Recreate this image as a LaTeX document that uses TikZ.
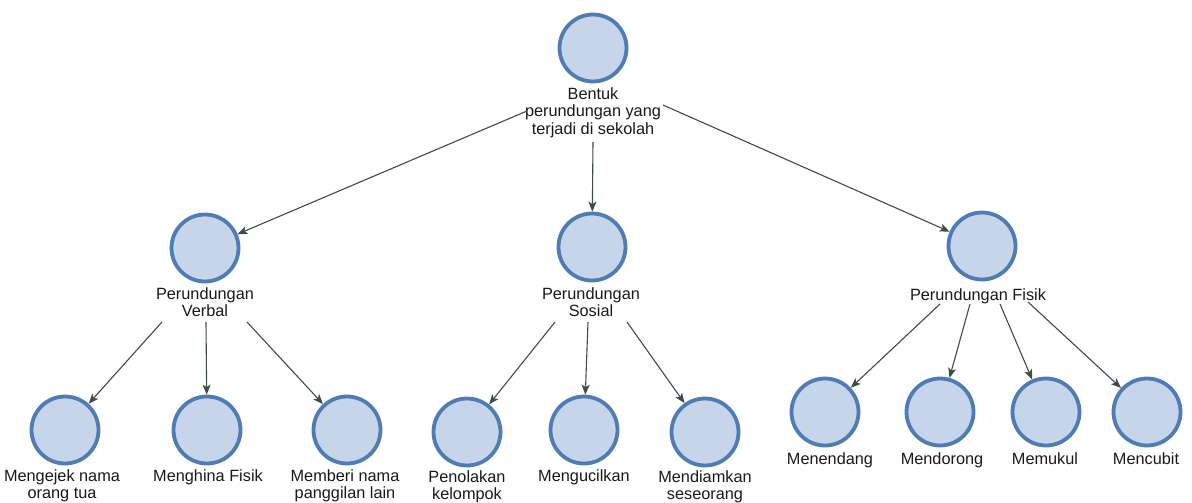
\documentclass[tikz,border=0pt]{standalone}
\usepackage{fontspec}
\setmainfont{Liberation Sans}
\usetikzlibrary{arrows.meta}
\definecolor{ringblue}{RGB}{80,124,182}
\definecolor{fillblue}{RGB}{198,213,233}
\definecolor{linkgray}{RGB}{62,76,70}
\definecolor{txt}{RGB}{25,25,25}
\tikzset{
  ball/.style={circle, draw=ringblue, fill=fillblue, line width=3.8pt, minimum size=67pt, inner sep=0pt},
  lbl/.style={anchor=north, align=center, inner sep=0pt, text=txt, font=\fontsize{16.3}{17.6}\selectfont},
  link/.style={draw=linkgray, line width=1.1pt, -{Stealth[length=10pt,width=8pt,inset=2.5pt]}}
}
\begin{document}
\begin{tikzpicture}[x=1pt,y=-1pt]
\useasboundingbox (0,0) rectangle (1192,503);

% root
\node[ball] (t) at (593,48) {};
\node[lbl] (tl) at (593,87) {Bentuk\\perundungan yang\\terjadi di sekolah};

% second level
\node[ball] (v) at (205,248) {};
\node[lbl] (vl) at (205,287) {Perundungan\\Verbal};
\node[ball] (s) at (592,247) {};
\node[lbl] (sl) at (591,287) {Perundungan\\Sosial};
\node[ball] (f) at (982,246) {};
\node[lbl] (fl) at (978,288) {Perundungan Fisik};

% verbal leaves
\node[ball] (v1) at (65,430) {};
\node[lbl] (v1l) at (62,469) {Mengejek nama\\orang tua};
\node[ball] (v2) at (207,430) {};
\node[lbl] (v2l) at (208,469) {Menghina Fisik};
\node[ball] (v3) at (347,430) {};
\node[lbl] (v3l) at (345,469) {Memberi nama\\panggilan lain};

% social leaves
\node[ball] (s1) at (467,432) {};
\node[lbl] (s1l) at (467,470) {Penolakan\\kelompok};
\node[ball] (s2) at (584,430) {};
\node[lbl] (s2l) at (584,469) {Mengucilkan};
\node[ball] (s3) at (705,432) {};
\node[lbl] (s3l) at (705,470) {Mendiamkan\\seseorang};

% physical leaves
\node[ball] (f1) at (825,412) {};
\node[lbl] (f1l) at (830,452) {Menendang};
\node[ball] (f2) at (940,412) {};
\node[lbl] (f2l) at (942,452) {Mendorong};
\node[ball] (f3) at (1046,412) {};
\node[lbl] (f3l) at (1045,452) {Memukul};
\node[ball] (f4) at (1147,412) {};
\node[lbl] (f4l) at (1146,452) {Mencubit};

% links from the root label
\draw[link] ([shift={(-66,24)}]tl.north) -- (v);
\draw[link] ([shift={(0,55)}]tl.north) -- (s);
\draw[link] ([shift={(70,18)}]tl.north) -- (f);

% links from the verbal label
\draw[link] ([shift={(-43,35)}]vl.north) -- (v1);
\draw[link] ([shift={(1,35)}]vl.north) -- (v2);
\draw[link] ([shift={(42,35)}]vl.north) -- (v3);

% links from the social label
\draw[link] ([shift={(-36,35)}]sl.north) -- (s1);
\draw[link] ([shift={(-3,35)}]sl.north) -- (s2);
\draw[link] ([shift={(36,35)}]sl.north) -- (s3);

% links from the physical label
\draw[link] ([shift={(-38,16)}]fl.north) -- (f1);
\draw[link] ([shift={(-8,16)}]fl.north) -- (f2);
\draw[link] ([shift={(22,16)}]fl.north) -- (f3);
\draw[link] ([shift={(50,14)}]fl.north) -- (f4);
\end{tikzpicture}
\end{document}
